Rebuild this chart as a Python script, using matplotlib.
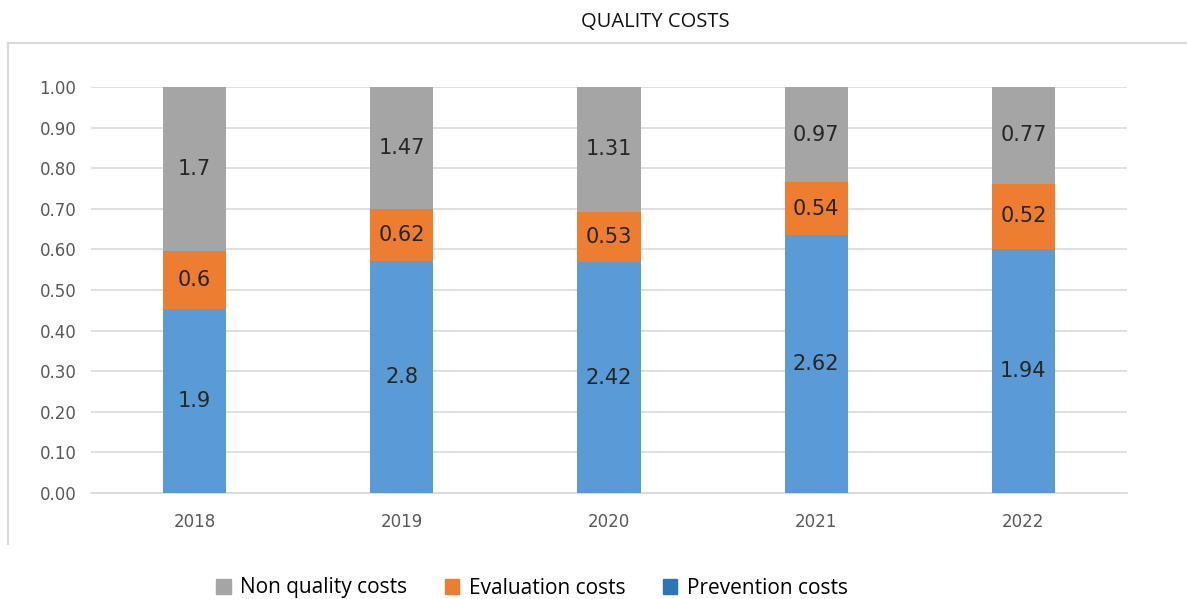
import matplotlib
matplotlib.use("Agg")
import matplotlib.pyplot as plt
from matplotlib.lines import Line2D
from matplotlib.patches import Patch

years = ["2018", "2019", "2020", "2021", "2022"]
prevention = [1.9, 2.8, 2.42, 2.62, 1.94]
evaluation = [0.6, 0.62, 0.53, 0.54, 0.52]
non_quality = [1.7, 1.47, 1.31, 0.97, 0.77]
y_ticks = [0.0, 0.1, 0.2, 0.3, 0.4, 0.5, 0.6, 0.7, 0.8, 0.9, 1.0]

c_prev = "#5B9BD5"
c_eval = "#ED7D31"
c_non = "#A5A5A5"

W, H = 1187, 599
fig = plt.figure(figsize=(W / 100, H / 100), dpi=100)
ax = fig.add_axes([91 / W, 1 - 493 / H, (1127 - 91) / W, (493 - 87) / H])

totals = [p + e + n for p, e, n in zip(prevention, evaluation, non_quality)]
sp = [p / t for p, t in zip(prevention, totals)]
se = [e / t for e, t in zip(evaluation, totals)]
sn = [n / t for n, t in zip(non_quality, totals)]
x = list(range(len(years)))
bw = 0.305

ax.bar(x, sp, bw, color=c_prev, zorder=3)
ax.bar(x, se, bw, bottom=sp, color=c_eval, zorder=3)
bottoms3 = [a + b for a, b in zip(sp, se)]
ax.bar(x, sn, bw, bottom=bottoms3, color=c_non, zorder=3)

lab_kw = dict(ha="center", va="center", fontsize=15, color="#262626",
              family="DejaVu Sans", zorder=4)
for i in x:
    ax.text(i, sp[i] / 2, f"{prevention[i]:g}", **lab_kw)
    ax.text(i, sp[i] + se[i] / 2, f"{evaluation[i]:g}", **lab_kw)
    ax.text(i, bottoms3[i] + sn[i] / 2, f"{non_quality[i]:g}", **lab_kw)

ax.set_xlim(-0.5, len(years) - 0.5)
ax.set_ylim(0, 1.0)
ax.set_yticks(y_ticks)
ax.set_yticklabels([f"{v:.2f}" for v in y_ticks])
ax.set_xticks(x)
ax.set_xticklabels(years)
ax.tick_params(axis="both", length=0, labelsize=12, colors="#595959")
ax.tick_params(axis="y", pad=10.5)
ax.tick_params(axis="x", pad=14.5)
for lbl in ax.get_xticklabels() + ax.get_yticklabels():
    lbl.set_family("DejaVu Sans")
ax.grid(axis="y", color="#D9D9D9", linewidth=1.2, zorder=0)
for s in ax.spines.values():
    s.set_visible(False)
ax.spines["bottom"].set_visible(True)
ax.spines["bottom"].set_color("#D9D9D9")
ax.spines["bottom"].set_linewidth(1.2)

# chart border (top and left)
fig.add_artist(Line2D([8 / W, 1.0], [1 - 43 / H, 1 - 43 / H], color="#D9D9D9", lw=1.5))
fig.add_artist(Line2D([8 / W, 8 / W], [1 - 43 / H, 1 - 544 / H], color="#D9D9D9", lw=1.5))

fig.text(655 / W, 1 - 22 / H, "QUALITY COSTS", ha="center", va="center",
         fontsize=14.5, family="Open Sans", color="#111111")

handles = [Patch(color=c_non), Patch(color=c_eval), Patch(color="#2E75B6")]
labels = ["Non quality costs", "Evaluation costs", "Prevention costs"]
fig.legend(handles, labels, loc="center", bbox_to_anchor=(532 / W, 1 - 588 / H),
           ncol=3, frameon=False, prop={"family": "Open Sans", "size": 15},
           handlelength=0.7, handleheight=0.7, handletextpad=0.45, columnspacing=1.8)

fig.savefig("out.png", dpi=100)
